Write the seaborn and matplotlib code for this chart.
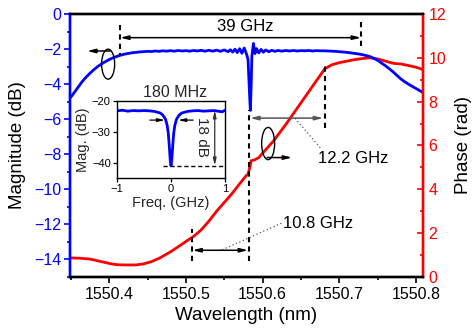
import matplotlib
matplotlib.use('Agg')
import matplotlib.pyplot as plt
import seaborn as sns
from matplotlib.patches import Ellipse
from matplotlib.ticker import MultipleLocator

# ---------------- data ----------------
blue_wl = [1550.350, 1550.355, 1550.360, 1550.365, 1550.370, 1550.375, 1550.380, 1550.385,
           1550.390, 1550.395, 1550.400, 1550.405, 1550.410, 1550.415, 1550.420, 1550.425,
           1550.430, 1550.435, 1550.440, 1550.445, 1550.450, 1550.455, 1550.460, 1550.465,
           1550.470, 1550.475, 1550.480, 1550.485, 1550.490, 1550.495, 1550.500, 1550.505,
           1550.510, 1550.515, 1550.520, 1550.525, 1550.530, 1550.535, 1550.540, 1550.545,
           1550.550, 1550.555, 1550.558, 1550.561, 1550.564, 1550.567, 1550.570, 1550.573,
           1550.576, 1550.579, 1550.581, 1550.583, 1550.584, 1550.585, 1550.586, 1550.588,
           1550.590, 1550.592, 1550.595, 1550.598, 1550.601, 1550.604, 1550.608, 1550.612,
           1550.616, 1550.620, 1550.625, 1550.630, 1550.635, 1550.640, 1550.645, 1550.650,
           1550.655, 1550.660, 1550.665, 1550.670, 1550.675, 1550.680, 1550.685, 1550.690,
           1550.695, 1550.700, 1550.705, 1550.710, 1550.715, 1550.720, 1550.725, 1550.730,
           1550.735, 1550.740, 1550.745, 1550.750, 1550.755, 1550.760, 1550.765, 1550.770,
           1550.775, 1550.780, 1550.785, 1550.790, 1550.795, 1550.800, 1550.805, 1550.810]
blue_db = [-4.75, -4.45, -4.15, -3.85, -3.60, -3.38, -3.18, -3.00,
           -2.85, -2.72, -2.60, -2.50, -2.42, -2.35, -2.29, -2.25,
           -2.21, -2.19, -2.16, -2.15, -2.13, -2.14, -2.11, -2.13,
           -2.10, -2.12, -2.09, -2.12, -2.08, -2.11, -2.09, -2.12,
           -2.08, -2.11, -2.07, -2.12, -2.07, -2.12, -2.06, -2.13,
           -2.05, -2.15, -2.04, -2.17, -2.01, -2.20, -1.98, -2.24,
           -1.94, -2.28, -2.60, -4.60, -5.50, -4.20, -2.40, -1.68,
           -2.26, -1.97, -2.22, -2.02, -2.18, -2.05, -2.15, -2.07,
           -2.13, -2.08, -2.12, -2.08, -2.11, -2.08, -2.11, -2.09,
           -2.10, -2.08, -2.11, -2.09, -2.10, -2.10, -2.11, -2.12,
           -2.13, -2.15, -2.17, -2.19, -2.22, -2.25, -2.28, -2.32,
           -2.37, -2.43, -2.53, -2.65, -2.80, -2.95, -3.12, -3.30,
           -3.50, -3.70, -3.86, -4.00, -4.13, -4.25, -4.38, -4.50]

red_wl = [1550.350, 1550.360, 1550.375, 1550.390, 1550.400, 1550.410, 1550.420, 1550.435,
          1550.445, 1550.455, 1550.465, 1550.480, 1550.490, 1550.500, 1550.510, 1550.520,
          1550.530, 1550.540, 1550.550, 1550.560, 1550.570, 1550.578, 1550.581, 1550.583,
          1550.585, 1550.590, 1550.595, 1550.600, 1550.614, 1550.630, 1550.645, 1550.660,
          1550.672, 1550.681, 1550.690, 1550.700, 1550.710, 1550.720, 1550.730, 1550.740,
          1550.750, 1550.760, 1550.770, 1550.780, 1550.790, 1550.800, 1550.810]
red_rad = [0.87, 0.86, 0.82, 0.70, 0.62, 0.56, 0.55, 0.55,
           0.60, 0.70, 0.85, 1.15, 1.38, 1.62, 1.85, 2.15,
           2.55, 3.00, 3.40, 3.80, 4.25, 4.60, 4.70, 4.95,
           5.30, 5.35, 5.45, 5.65, 6.20, 6.95, 7.70, 8.45,
           9.05, 9.50, 9.68, 9.78, 9.85, 9.92, 9.97, 10.00,
           9.95, 9.85, 9.75, 9.72, 9.65, 9.57, 9.45]

ins_f = [-1.0, -0.9, -0.8, -0.7, -0.6, -0.5, -0.4, -0.3, -0.2, -0.15, -0.1, -0.07,
         -0.05, -0.03, -0.015, 0.0, 0.015, 0.03, 0.05, 0.07, 0.1, 0.15, 0.2, 0.3,
         0.4, 0.5, 0.6, 0.7, 0.8, 0.9, 0.95, 1.0]
ins_db = [-23.2, -23.0, -23.3, -23.1, -23.2, -23.1, -23.2, -23.4, -23.9, -24.6, -26.0, -28.0,
          -30.5, -35.0, -39.0, -41.0, -39.0, -35.0, -30.5, -28.0, -26.0, -24.6, -23.9, -23.4,
          -23.2, -23.1, -23.3, -23.2, -23.1, -23.4, -23.5, -23.0]

x_ticks = [1550.4, 1550.5, 1550.6, 1550.7, 1550.8]
x_ticklabels = ['1550.4', '1550.5', '1550.6', '1550.7', '1550.8']
mag_ticks = [0, -2, -4, -6, -8, -10, -12, -14]
phase_ticks = [0, 2, 4, 6, 8, 10, 12]

# ---------------- style ----------------
sns.set_theme(style='white')
plt.rcParams['font.family'] = ['Liberation Sans', 'DejaVu Sans']
BLUE = '#0000ff'
RED = '#ff0000'

W, H = 472, 332
fig = plt.figure(figsize=(W / 100, H / 100), dpi=100)
L, R, T, B = 70, 423, 14, 277
ax = fig.add_axes([L / W, (H - B) / H, (R - L) / W, (B - T) / H])
ax2 = ax.twinx()
ax.set_zorder(ax2.get_zorder() + 1)
ax.patch.set_visible(False)

sns.lineplot(x=red_wl, y=red_rad, ax=ax2, color=RED, lw=2.0, estimator=None)
sns.lineplot(x=blue_wl, y=blue_db, ax=ax, color=BLUE, lw=2.0, estimator=None)

ax.set_xlim(1550.349, 1550.809)
ax.set_ylim(-15, 0)
ax2.set_ylim(0, 12)
ax.set_xticks(x_ticks)
ax.set_xticklabels(x_ticklabels)
ax.set_yticks(mag_ticks)
ax2.set_yticks(phase_ticks)
ax.xaxis.set_minor_locator(MultipleLocator(0.05))
ax.yaxis.set_minor_locator(MultipleLocator(1))
ax2.yaxis.set_minor_locator(MultipleLocator(1))

for a in (ax, ax2):
    for s in a.spines.values():
        s.set_linewidth(1.7)
        s.set_color('black')
ax.spines['left'].set_color(BLUE)
ax2.spines['left'].set_color(BLUE)
ax.spines['right'].set_color(RED)
ax2.spines['right'].set_color(RED)

ax.tick_params(axis='x', which='major', direction='out', length=4, width=1.2,
               colors='black', labelsize=11.5, pad=3, bottom=True)
ax.tick_params(axis='x', which='minor', direction='out', length=2.5, width=1.2,
               colors='black', bottom=True)
ax.tick_params(axis='y', which='major', direction='out', length=4, width=1.2,
               colors=BLUE, labelsize=11.5, pad=2, left=True)
ax.tick_params(axis='y', which='minor', direction='out', length=2.5, width=1.2,
               colors=BLUE, left=True)
ax2.tick_params(axis='y', which='major', direction='in', length=4, width=1.2,
                colors=RED, labelsize=11.5, pad=4, right=True)
ax2.tick_params(axis='y', which='minor', direction='in', length=2.5, width=1.2,
                colors=RED, right=True)

ax.set_xlabel('Wavelength (nm)', fontsize=13.5, color='black', labelpad=4)
ax.set_ylabel('Magnitude (dB)', fontsize=13.5, color='black', labelpad=6)
ax2.set_ylabel('Phase (rad)', fontsize=13.5, color='black', labelpad=6)

AH2 = '<|-|>,head_length=0.4,head_width=0.1'
AH1 = '-|>,head_length=0.4,head_width=0.1'

# ---------------- annotations on magnitude axis ----------------
dash_kw = dict(color='black', lw=1.5, ls=(0, (2.5, 2)))
ax.plot([1550.4143, 1550.4143], [-0.6, -2.35], **dash_kw)
ax.plot([1550.7283, 1550.7283], [-0.45, -2.05], **dash_kw)
ax.annotate('', xy=(1550.4143, -1.35), xytext=(1550.7283, -1.35),
            arrowprops=dict(arrowstyle=AH2, lw=1.1, color='black', shrinkA=0, shrinkB=0))
ax.text(1550.5772, -0.72, '39 GHz', ha='center', va='center', fontsize=12, color='black')
ax.add_patch(Ellipse((1550.3987, -2.86), width=0.017, height=1.71, fill=False,
                     lw=1.0, ec='black', zorder=5))
ax.annotate('', xy=(1550.3713, -2.11), xytext=(1550.4013, -2.11),
            arrowprops=dict(arrowstyle=AH1, lw=1.1, color='black', shrinkA=0, shrinkB=0))

# ---------------- annotations on phase axis ----------------
ax2.plot([1550.5824, 1550.5824], [0.73, 7.6], **dash_kw)
ax2.plot([1550.6814, 1550.6814], [6.82, 9.76], **dash_kw)
ax2.plot([1550.5081, 1550.5081], [0.73, 2.2], **dash_kw)
ax2.annotate('', xy=(1550.5837, 7.25), xytext=(1550.6789, 7.25),
             arrowprops=dict(arrowstyle=AH2, lw=1.1, color='#555555', shrinkA=0, shrinkB=0))
ax2.annotate('', xy=(1550.5085, 1.22), xytext=(1550.5811, 1.22),
             arrowprops=dict(arrowstyle=AH2, lw=1.1, color='black', shrinkA=0, shrinkB=0))
ax2.plot([1550.6423, 1550.676], [7.24, 5.86], color='#555555', lw=0.9, ls=(0, (1, 2)))
ax2.plot([1550.5473, 1550.6255], [1.24, 2.47], color='#555555', lw=0.9, ls=(0, (1, 2)))
ax2.text(1550.6723, 5.4, '12.2 GHz', ha='left', va='center', fontsize=12, color='black')
ax2.text(1550.627, 2.43, '10.8 GHz', ha='left', va='center', fontsize=12, color='black')
ax2.add_patch(Ellipse((1550.6072, 6.09), width=0.0169, height=1.47, fill=False,
                      lw=1.0, ec='black', zorder=5))
ax2.annotate('', xy=(1550.6384, 5.45), xytext=(1550.6059, 5.45),
             arrowprops=dict(arrowstyle=AH1, lw=1.1, color='black', shrinkA=0, shrinkB=0))

# ---------------- inset ----------------
iL, iR, iT, iB = 117, 225, 101, 178
axin = fig.add_axes([iL / W, (H - iB) / H, (iR - iL) / W, (iB - iT) / H])
axin.set_zorder(ax.get_zorder() + 1)
axin.set_facecolor('white')
sns.lineplot(x=ins_f, y=ins_db, ax=axin, color=BLUE, lw=2.0, estimator=None)
axin.set_xlim(-1, 1)
axin.set_ylim(-45, -20)
axin.set_xticks([-1, 0, 1])
axin.set_yticks([-20, -30, -40])
for s in axin.spines.values():
    s.set_linewidth(1.0)
    s.set_color('black')
axin.tick_params(axis='both', which='major', direction='out', length=3, width=0.9,
                 colors='black', labelsize=8, pad=1.5, bottom=True, left=True)
axin.set_xlabel('Freq. (GHz)', fontsize=10.5, labelpad=1)
axin.set_ylabel('Mag. (dB)', fontsize=10.5, labelpad=1)
AHs = '-|>,head_length=0.35,head_width=0.08'
axin.annotate('', xy=(-0.11, -26.2), xytext=(-0.39, -26.2),
              arrowprops=dict(arrowstyle=AHs, lw=0.9, color='black', shrinkA=0, shrinkB=0))
axin.annotate('', xy=(0.13, -26.2), xytext=(0.41, -26.2),
              arrowprops=dict(arrowstyle=AHs, lw=0.9, color='black', shrinkA=0, shrinkB=0))
axin.annotate('', xy=(0.81, -23.0), xytext=(0.81, -41.0),
              arrowprops=dict(arrowstyle='<|-|>,head_length=0.35,head_width=0.08',
                              lw=0.9, color='#333333', shrinkA=0, shrinkB=0))
axin.plot([-0.15, 1.0], [-41, -41], color='black', lw=1.0, ls=(0, (3, 2)), clip_on=False)
axin.text(0.57, -31.6, '18 dB', rotation=270, ha='center', va='center', fontsize=11)
axin.text(0.07, -17.2, '180 MHz', ha='center', va='center', fontsize=11.5, clip_on=False)

fig.savefig('out.png', dpi=100)
